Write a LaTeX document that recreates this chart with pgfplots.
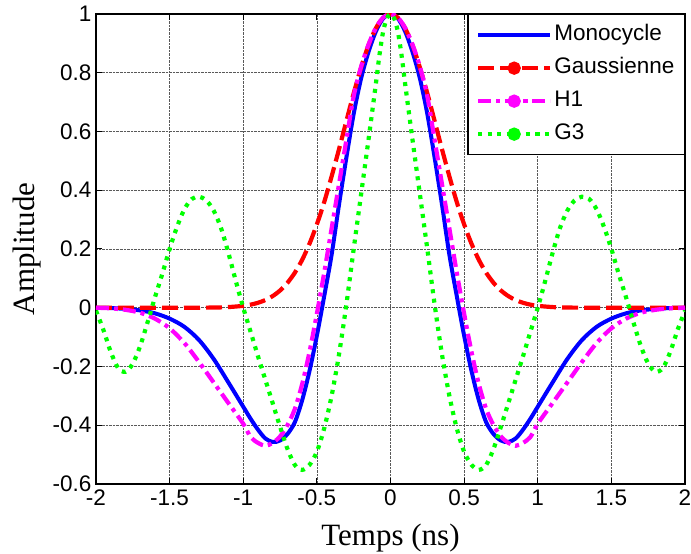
\documentclass[border=0pt]{standalone}
\usepackage{pgfplots}
\pgfplotsset{compat=1.18}
\usepackage{fontspec}
\setmainfont{Liberation Sans}
\newfontfamily\timesfont{Liberation Serif}
\definecolor{mblue}{RGB}{0,0,255}
\definecolor{mred}{RGB}{255,0,0}
\definecolor{mmag}{RGB}{255,0,255}
\definecolor{mgreen}{RGB}{0,255,0}
\begin{document}
\begin{tikzpicture}
\begin{axis}[
  name=ax,
  scale only axis, width=589bp, height=470bp,
  xmin=-2, xmax=2, ymin=-0.6, ymax=1,
  xtick={-2,-1.5,-1,-0.5,0,0.5,1,1.5,2},
  ytick={-0.6,-0.4,-0.2,0,0.2,0.4,0.6,0.8,1},
  tick align=inside, major tick length=6bp,
  tick style={black, line width=1bp},
  axis line style={black, line width=1.3bp},
  grid=major, grid style={densely dotted, black!65, line width=0.7bp},
  /pgf/number format/assume math mode=true,
  tick label style={font=\fontsize{22.5bp}{26bp}\selectfont},
  xticklabel style={yshift=-2bp},
  yticklabel style={xshift=-1bp},
  xlabel={Temps (ns)}, ylabel={Amplitude},
  label style={font=\timesfont\fontsize{31bp}{35bp}\selectfont},
  xlabel style={at={(axis description cs:0.5,-0.115)}, anchor=center},
  ylabel style={at={(axis description cs:-0.117,0.5)}, anchor=center},
  legend style={at={(1,1)}, anchor=north east, draw=black, line width=1.3bp,
    font=\fontsize{22.5bp}{26bp}\selectfont, inner xsep=8bp, inner ysep=8bp,
    row sep=8bp, nodes={inner sep=2bp, text height=16bp, text depth=5bp}},
  legend cell align=left,
  legend image code/.code={\draw[#1, mark repeat=2, mark phase=2] plot coordinates {(0bp,0bp) (36bp,0bp) (72bp,0bp)};},
]
\addplot[mblue, line width=4bp, smooth] coordinates {
(-2,0) (-1.9,-0.001) (-1.8,-0.004) (-1.7,-0.009) (-1.6,-0.019) (-1.5,-0.037) (-1.4,-0.065) (-1.3,-0.11) (-1.2,-0.175) (-1.1,-0.255) (-1,-0.337) (-0.95,-0.378) (-0.9,-0.415) (-0.85,-0.445) (-0.8,-0.457) (-0.75,-0.452) (-0.7,-0.43) (-0.65,-0.39) (-0.6,-0.315) (-0.55,-0.215) (-0.5,-0.095) (-0.45,0.04) (-0.4,0.18) (-0.35,0.35) (-0.3,0.51) (-0.25,0.66) (-0.2,0.78) (-0.15,0.87) (-0.1,0.94) (-0.05,0.985) (0,1)
(0.05,0.985) (0.1,0.94) (0.15,0.87) (0.2,0.78) (0.25,0.66) (0.3,0.51) (0.35,0.35) (0.4,0.18) (0.45,0.04) (0.5,-0.095) (0.55,-0.215) (0.6,-0.315) (0.65,-0.39) (0.7,-0.43) (0.75,-0.452) (0.8,-0.457) (0.85,-0.445) (0.9,-0.415) (0.95,-0.378) (1,-0.337) (1.1,-0.255) (1.2,-0.175) (1.3,-0.11) (1.4,-0.065) (1.5,-0.037) (1.6,-0.019) (1.7,-0.009) (1.8,-0.004) (1.9,-0.001) (2,0)
};
\addlegendentry{Monocycle}
\addplot[mred, line width=4.2bp, smooth, dash pattern=on 16bp off 6bp,
  legend image post style={mark=*, mark size=4.5bp, mark options={solid, fill=mred}}] coordinates {
(-2,0) (-1.6,0) (-1.4,0.00005) (-1.2,0.0007) (-1.1,0.0023) (-1,0.0065) (-0.95,0.0106) (-0.9,0.0169) (-0.85,0.0262) (-0.8,0.0397) (-0.75,0.0588) (-0.7,0.0847) (-0.65,0.119) (-0.6,0.163) (-0.55,0.218) (-0.5,0.284) (-0.45,0.36) (-0.4,0.447) (-0.35,0.539) (-0.3,0.635) (-0.25,0.73) (-0.2,0.817) (-0.15,0.893) (-0.1,0.951) (-0.05,0.9875) (0,1)
(0.05,0.9875) (0.1,0.951) (0.15,0.893) (0.2,0.817) (0.25,0.73) (0.3,0.635) (0.35,0.539) (0.4,0.447) (0.45,0.36) (0.5,0.284) (0.55,0.218) (0.6,0.163) (0.65,0.119) (0.7,0.0847) (0.75,0.0588) (0.8,0.0397) (0.85,0.0262) (0.9,0.0169) (0.95,0.0106) (1,0.0065) (1.1,0.0023) (1.2,0.0007) (1.4,0.00005) (1.6,0) (2,0)
};
\addlegendentry{Gaussienne}
\addplot[mmag, line width=4.2bp, smooth, dash pattern=on 13bp off 5bp on 4bp off 5bp,
  legend image post style={mark=*, mark size=4.5bp, mark options={solid, fill=mmag}}] coordinates {
(-2,0) (-1.9,-0.002) (-1.8,-0.007) (-1.7,-0.017) (-1.6,-0.037) (-1.5,-0.07) (-1.4,-0.12) (-1.3,-0.185) (-1.2,-0.255) (-1.1,-0.325) (-1,-0.395) (-0.95,-0.44) (-0.9,-0.46) (-0.85,-0.47) (-0.8,-0.46) (-0.75,-0.438) (-0.7,-0.4) (-0.65,-0.345) (-0.6,-0.26) (-0.55,-0.15) (-0.5,-0.02) (-0.45,0.12) (-0.4,0.27) (-0.35,0.42) (-0.3,0.57) (-0.25,0.72) (-0.2,0.82) (-0.15,0.895) (-0.1,0.952) (-0.05,0.988) (0,1)
(0.05,0.988) (0.1,0.952) (0.15,0.895) (0.2,0.82) (0.25,0.72) (0.3,0.57) (0.35,0.42) (0.4,0.27) (0.45,0.12) (0.5,-0.02) (0.55,-0.15) (0.6,-0.26) (0.65,-0.345) (0.7,-0.4) (0.75,-0.438) (0.8,-0.46) (0.85,-0.47) (0.9,-0.46) (0.95,-0.44) (1,-0.395) (1.1,-0.325) (1.2,-0.255) (1.3,-0.185) (1.4,-0.12) (1.5,-0.07) (1.6,-0.037) (1.7,-0.017) (1.8,-0.007) (1.9,-0.002) (2,0)
};
\addlegendentry{H1}
\addplot[mgreen, line width=4.2bp, smooth, dash pattern=on 4bp off 5.5bp,
  legend image post style={mark=*, mark size=4.5bp, mark options={solid, fill=mgreen}}] coordinates {
(-2,-0.01) (-1.95,-0.075) (-1.9,-0.15) (-1.85,-0.205) (-1.8,-0.218) (-1.75,-0.19) (-1.7,-0.13) (-1.65,-0.05) (-1.6,0.035) (-1.55,0.115) (-1.5,0.2) (-1.45,0.275) (-1.4,0.335) (-1.35,0.37) (-1.3,0.378) (-1.25,0.365) (-1.2,0.33) (-1.15,0.27) (-1.1,0.185) (-1.05,0.09) (-1,0) (-0.95,-0.082) (-0.9,-0.165) (-0.85,-0.245) (-0.8,-0.325) (-0.75,-0.405) (-0.7,-0.48) (-0.65,-0.535) (-0.6,-0.552) (-0.55,-0.535) (-0.5,-0.49) (-0.45,-0.41) (-0.4,-0.3) (-0.35,-0.16) (-0.3,0.01) (-0.25,0.2) (-0.2,0.385) (-0.15,0.57) (-0.1,0.76) (-0.075,0.86) (-0.05,0.94) (-0.025,0.985) (0,1)
(0.025,0.985) (0.05,0.94) (0.075,0.86) (0.1,0.76) (0.15,0.57) (0.2,0.385) (0.25,0.2) (0.3,0.01) (0.35,-0.16) (0.4,-0.3) (0.45,-0.41) (0.5,-0.49) (0.55,-0.535) (0.6,-0.552) (0.65,-0.535) (0.7,-0.48) (0.75,-0.405) (0.8,-0.325) (0.85,-0.245) (0.9,-0.165) (0.95,-0.082) (1,0) (1.05,0.09) (1.1,0.185) (1.15,0.27) (1.2,0.33) (1.25,0.365) (1.3,0.378) (1.35,0.37) (1.4,0.335) (1.45,0.275) (1.5,0.2) (1.55,0.115) (1.6,0.035) (1.65,-0.05) (1.7,-0.13) (1.75,-0.19) (1.8,-0.218) (1.85,-0.205) (1.9,-0.15) (1.95,-0.075) (2,-0.01)
};
\addlegendentry{G3}
\end{axis}
\pgfresetboundingbox
\path ([xshift=-96bp,yshift=-70bp]ax.south west) rectangle ([xshift=6bp,yshift=14bp]ax.north east);
\end{tikzpicture}
\end{document}
